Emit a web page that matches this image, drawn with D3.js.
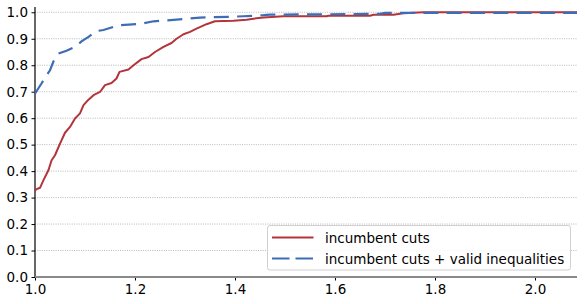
<!DOCTYPE html>
<html>
<head>
<meta charset="utf-8">
<script src="https://cdn.jsdelivr.net/npm/d3@7"></script>
<style>
  html, body { margin: 0; padding: 0; background: #fff; }
  svg { display: block; font-family: "DejaVu Sans", sans-serif; }
</style>
</head>
<body>
<svg id="chart" width="585" height="304"></svg>
<script>
// ---- data ----
const redX = [1.0, 1.002, 1.01, 1.017, 1.027, 1.033, 1.04, 1.05, 1.06, 1.07, 1.08, 1.09, 1.097, 1.107, 1.117, 1.13, 1.14, 1.153, 1.163, 1.169, 1.187, 1.197, 1.213, 1.227, 1.24, 1.257, 1.273, 1.283, 1.297, 1.31, 1.323, 1.343, 1.36, 1.397, 1.423, 1.437, 1.457, 1.497, 1.583, 1.587, 1.67, 1.677, 1.717, 1.737, 1.777, 2.084];
const redY = [0.325, 0.331, 0.337, 0.366, 0.404, 0.44, 0.46, 0.504, 0.545, 0.567, 0.599, 0.618, 0.649, 0.67, 0.687, 0.699, 0.725, 0.733, 0.75, 0.775, 0.784, 0.80, 0.823, 0.831, 0.85, 0.869, 0.884, 0.9, 0.917, 0.926, 0.938, 0.955, 0.966, 0.968, 0.972, 0.976, 0.98, 0.985, 0.985, 0.987, 0.987, 0.991, 0.991, 0.996, 1.0, 1.0];
const blueX = [1.0, 1.002, 1.013, 1.02, 1.03, 1.037, 1.047, 1.063, 1.08, 1.093, 1.107, 1.123, 1.137, 1.157, 1.167, 1.21, 1.237, 1.283, 1.33, 1.387, 1.417, 1.457, 1.47, 1.69, 1.7, 2.084];
const blueY = [0.693, 0.699, 0.731, 0.753, 0.781, 0.815, 0.844, 0.855, 0.869, 0.89, 0.907, 0.929, 0.933, 0.945, 0.951, 0.956, 0.966, 0.972, 0.98, 0.983, 0.985, 0.989, 0.991, 0.994, 0.998, 0.998];
const seriesNames = ["incumbent cuts", "incumbent cuts + valid inequalities"];
const xTicks = [1.0, 1.2, 1.4, 1.6, 1.8, 2.0];
const yTicks = [0.0, 0.1, 0.2, 0.3, 0.4, 0.5, 0.6, 0.7, 0.8, 0.9, 1.0];

// ---- layout ----
const svg = d3.select("#chart");
const mLeft = 35, mRight = 577, mTop = 7, mBottom = 277;
const x = d3.scaleLinear().domain([1.0, 2.084]).range([mLeft, mRight]);
const y = d3.scaleLinear().domain([0, 1.02]).range([mBottom, mTop]);
const fs = 13.5;

// grid
svg.append("g").selectAll("line").data(yTicks.slice(1)).join("line")
  .attr("x1", mLeft).attr("x2", mRight)
  .attr("y1", d => y(d)).attr("y2", d => y(d))
  .attr("stroke", "#b8b8b8").attr("stroke-width", 1)
  .attr("stroke-dasharray", "1,1.3");

// y axis
const yAxis = d3.axisLeft(y).tickValues(yTicks).tickFormat(d3.format(".1f")).tickSize(3.5).tickPadding(3.5);
const gy = svg.append("g").attr("transform", `translate(${mLeft},0)`).call(yAxis);
gy.select(".domain").remove();
gy.selectAll("text").attr("font-size", fs).attr("fill", "#000").attr("font-family", "DejaVu Sans");
gy.selectAll("line").attr("stroke", "#000");
svg.append("line").attr("x1", mLeft).attr("x2", mLeft).attr("y1", mTop).attr("y2", mBottom)
  .attr("stroke", "#000").attr("stroke-width", 1.2);

// x axis
const xAxis = d3.axisBottom(x).tickValues(xTicks).tickFormat(d3.format(".1f")).tickSize(3.5).tickPadding(4);
const gx = svg.append("g").attr("transform", `translate(0,${mBottom})`).call(xAxis);
gx.select(".domain").remove();
gx.selectAll("text").attr("font-size", fs).attr("fill", "#000").attr("font-family", "DejaVu Sans");
gx.selectAll("line").attr("stroke", "#000");
svg.append("line").attr("x1", mLeft).attr("x2", mRight).attr("y1", mBottom).attr("y2", mBottom)
  .attr("stroke", "#8a8a8a").attr("stroke-width", 2.2);

// lines
const line = d3.line().x(d => x(d[0])).y(d => y(d[1]));
const redData = redX.map((v, i) => [v, redY[i]]);
const blueData = blueX.map((v, i) => [v, blueY[i]]);
const red = "#b3343a", blue = "#3d6db4";
svg.append("path").datum(redData).attr("d", line)
  .attr("fill", "none").attr("stroke", red).attr("stroke-width", 2).attr("stroke-linejoin", "round");
svg.append("path").datum(blueData).attr("d", line)
  .attr("fill", "none").attr("stroke", blue).attr("stroke-width", 2.2)
  .attr("stroke-dasharray", "15,8.3");

// legend
const lg = svg.append("g");
lg.append("rect").attr("x", 267.5).attr("y", 225.5).attr("width", 303).attr("height", 44.5)
  .attr("rx", 2.5).attr("fill", "#fff").attr("fill-opacity", 0.85)
  .attr("stroke", "#d0d0d0").attr("stroke-width", 1);
const items = [{name: seriesNames[0], color: red, dash: null, yy: 237.5},
               {name: seriesNames[1], color: blue, dash: "17.5,6", yy: 258.5}];
items.forEach(it => {
  lg.append("line").attr("x1", 272).attr("x2", 313.5).attr("y1", it.yy).attr("y2", it.yy)
    .attr("stroke", it.color).attr("stroke-width", 2.2)
    .attr("stroke-dasharray", it.dash);
  lg.append("text").attr("x", 325).attr("y", it.yy + 5).attr("font-size", fs)
    .attr("fill", "#000").text(it.name);
});
</script>
</body>
</html>
